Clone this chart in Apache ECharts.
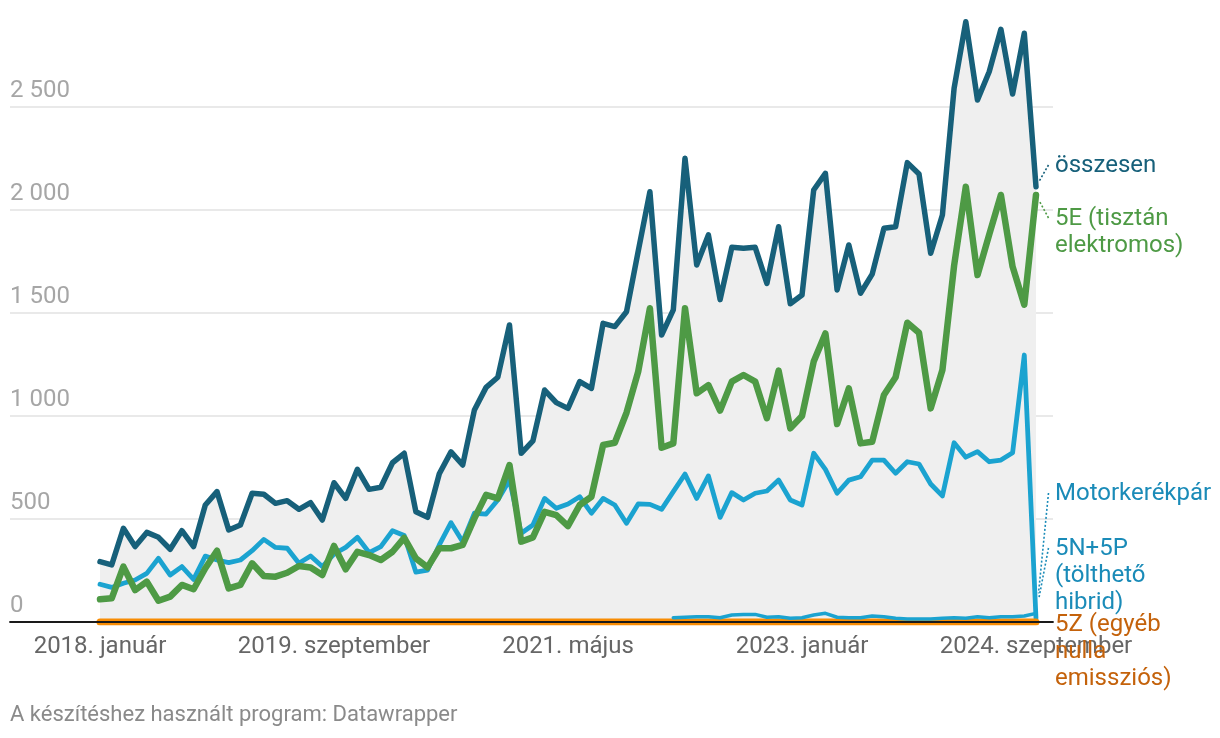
<!DOCTYPE html>
<html><head><meta charset="utf-8">
<script src="https://cdn.jsdelivr.net/npm/echarts@6/dist/echarts.min.js"></script>
<style>html,body{margin:0;padding:0;background:#fff}#c{width:1220px;height:738px}</style>
</head><body><div id="c"></div><script>
// Monthly data, 2018. január – 2024. szeptember (81 months)
const tickIndex = [0, 20, 40, 60, 80];
const tickLabels = ['2018. január', '2019. szeptember', '2021. május', '2023. január', '2024. szeptember'];
const yTicks = [0, 500, 1000, 1500, 2000, 2500];

const osszesen = [293,277,455,366,435,411,353,443,366,568,633,447,471,625,620,576,589,547,579,495,
  676,600,741,644,654,773,819,535,508,720,826,762,1029,1139,1188,1442,819,879,1126,1065,
  1037,1167,1134,1450,1434,1506,1800,2089,1393,1515,2251,1733,1879,1565,1819,1814,1819,1644,1919,1545,
  1587,2097,2178,1612,1830,1596,1689,1911,1919,2230,2175,1790,1976,2591,2914,2534,2671,2877,2563,2858,
  2113];
const tisztanE = [110,115,269,155,196,103,123,180,159,261,346,163,180,285,223,220,239,272,265,228,
  369,256,341,325,301,341,408,309,265,358,358,374,503,617,600,762,390,411,535,519,
  466,568,608,859,870,1016,1215,1523,846,867,1523,1110,1150,1026,1167,1199,1167,989,1220,940,
  1000,1264,1401,961,1134,867,875,1102,1188,1453,1404,1037,1223,1730,2113,1684,1880,2073,1725,1540,
  2073];
const motor = [183,168,188,204,236,309,228,269,207,320,301,288,301,346,401,362,358,285,320,269,
  330,362,411,337,366,443,420,242,252,374,482,390,528,524,592,689,431,471,600,552,
  573,608,528,600,568,479,573,571,547,633,718,600,709,508,628,592,625,636,689,592,
  568,819,741,625,689,705,786,786,722,778,767,670,612,870,800,827,778,786,822,1296,
  18];
const hibrid = [null,null,null,null,null,null,null,null,null,null,null,null,null,null,null,null,null,null,null,null,
  null,null,null,null,null,null,null,null,null,null,null,null,null,null,null,null,null,null,null,null,
  null,null,null,null,null,null,null,null,null,21,23,26,26,21,34,37,37,23,26,18,
  21,34,42,23,21,21,29,26,18,15,15,15,18,21,18,26,21,26,26,29,
  42];
const egyebZ = [0,0,0,0,0,0,0,0,0,0,0,0,0,0,0,0,0,0,0,0,
  0,0,0,0,0,0,0,0,0,0,0,0,0,0,0,0,0,0,0,0,
  0,0,0,0,0,0,0,0,0,0,0,0,0,0,0,0,0,0,0,0,
  0,0,0,0,0,0,0,0,0,0,0,0,0,0,0,0,0,0,0,0,
  0];

const C_TOTAL = '#17607a', C_E = '#4e9a45', C_MOTOR = '#1ba3d0', C_MOTOR_TXT = '#1a8bb8', C_Z = '#f88c03', C_Z_TXT = '#c4620b';
const FONT = 'Roboto';
const FS = 24;
const pairs = arr => arr.map((v, i) => [i, v]);

const chart = echarts.init(document.getElementById('c'), null, {renderer: 'canvas'});
const lineBase = {type: 'line', showSymbol: false, symbol: 'none', smooth: false, connectNulls: false,
  emphasis: {disabled: true}};

chart.setOption({
  animation: false,
  backgroundColor: '#fff',
  textStyle: {fontFamily: FONT},
  grid: {left: 10, right: 167, top: 4, bottom: 116, containLabel: false},
  xAxis: {
    type: 'value', min: -7.692, max: 81.453, z: 5,
    axisLine: {show: true, onZero: false, lineStyle: {color: '#1a1a1a', width: 1.8}},
    axisTick: {show: false},
    splitLine: {show: false},
    axisLabel: {
      customValues: tickIndex, color: '#666', fontSize: FS, fontFamily: FONT, margin: 13,
      formatter: v => { const k = tickIndex.indexOf(Math.round(v)); return k >= 0 ? tickLabels[k] : ''; }
    }
  },
  yAxis: {
    type: 'value', min: 0, max: 3000, interval: 500,
    axisLine: {show: false}, axisTick: {show: false},
    splitLine: {show: true, showMinLine: false, showMaxLine: false, lineStyle: {color: '#e2e2e2', width: 1.6}},
    axisLabel: {
      inside: true, margin: 0, align: 'left', verticalAlign: 'bottom', padding: [0, 0, 4, 0],
      color: '#a6a6a6', fontSize: FS, fontFamily: FONT,
      formatter: v => yTicks.indexOf(v) >= 0 ? String(v).replace(/\B(?=(\d{3})+(?!\d))/g, ' ') : ''
    }
  },
  series: [
    Object.assign({}, lineBase, {name: 'összesen', data: pairs(osszesen), z: 2,
      lineStyle: {color: C_TOTAL, width: 5.5, join: 'round', cap: 'round'}, areaStyle: {color: '#efefef', opacity: 1}}),
    Object.assign({}, lineBase, {name: 'Motorkerékpár', data: pairs(motor), z: 3,
      lineStyle: {color: C_MOTOR, width: 4.8, join: 'round', cap: 'round'}}),
    Object.assign({}, lineBase, {name: '5E', data: pairs(tisztanE), z: 4,
      lineStyle: {color: C_E, width: 6.5, join: 'round', cap: 'round'}}),
    Object.assign({}, lineBase, {name: '5Z', data: pairs(egyebZ), z: 3,
      lineStyle: {color: C_Z, width: 7, join: 'round', cap: 'round'}}),
    Object.assign({}, lineBase, {name: '5N+5P', data: pairs(hibrid), z: 4,
      lineStyle: {color: C_MOTOR, width: 3.5, join: 'round', cap: 'round'}})
  ]
});

// Right-side labels and dotted leaders
const labels = [
  {series: 0, vals: osszesen, lines: ['összesen'], y: 165, color: C_TOTAL, gap: 7},
  {series: 2, vals: tisztanE, lines: ['5E (tisztán', 'elektromos)'], y: 218, color: C_E, gap: 8},
  {series: 1, vals: motor, lines: ['Motorkerékpár'], y: 493, color: C_MOTOR_TXT, gap: 25},
  {series: 4, vals: hibrid, lines: ['5N+5P', '(tölthető', 'hibrid)'], y: 548, color: C_MOTOR_TXT, gap: 16},
  {series: 3, vals: egyebZ, lines: ['5Z (egyéb', 'nulla', 'emissziós)'], y: 624, color: C_Z_TXT, gap: 0}
];
const LH = 26.8;
const graphics = [];
labels.forEach((L, k) => {
  L.lines.forEach((t, j) => {
    graphics.push({type: 'text', z: 20, x: 1055, y: L.y + j * LH + 1,
      style: {text: t, fill: L.color, font: FS + 'px ' + FONT, align: 'left', verticalAlign: 'middle'}});
  });
  if (k === 4) return;
  const last = L.vals.length - 1;
  const p = chart.convertToPixel({seriesIndex: L.series}, [last, L.vals[last]]);
  const sx = 1048.5, sy = L.y;
  const dx = sx - p[0], dy = sy - p[1], d = Math.sqrt(dx * dx + dy * dy);
  const ex = p[0] + dx / d * L.gap, ey = p[1] + dy / d * L.gap;
  graphics.push({type: 'line', z: 20, shape: {x1: sx, y1: sy, x2: ex, y2: ey},
    style: {stroke: L.color, lineWidth: 1.6, lineDash: [2, 2]}});
});
graphics.push({type: 'text', x: 10, y: 715,
  style: {text: 'A készítéshez használt program: Datawrapper', fill: '#8a8a8a', font: '22px ' + FONT, verticalAlign: 'middle'}});
chart.setOption({graphic: graphics});
</script></body></html>
